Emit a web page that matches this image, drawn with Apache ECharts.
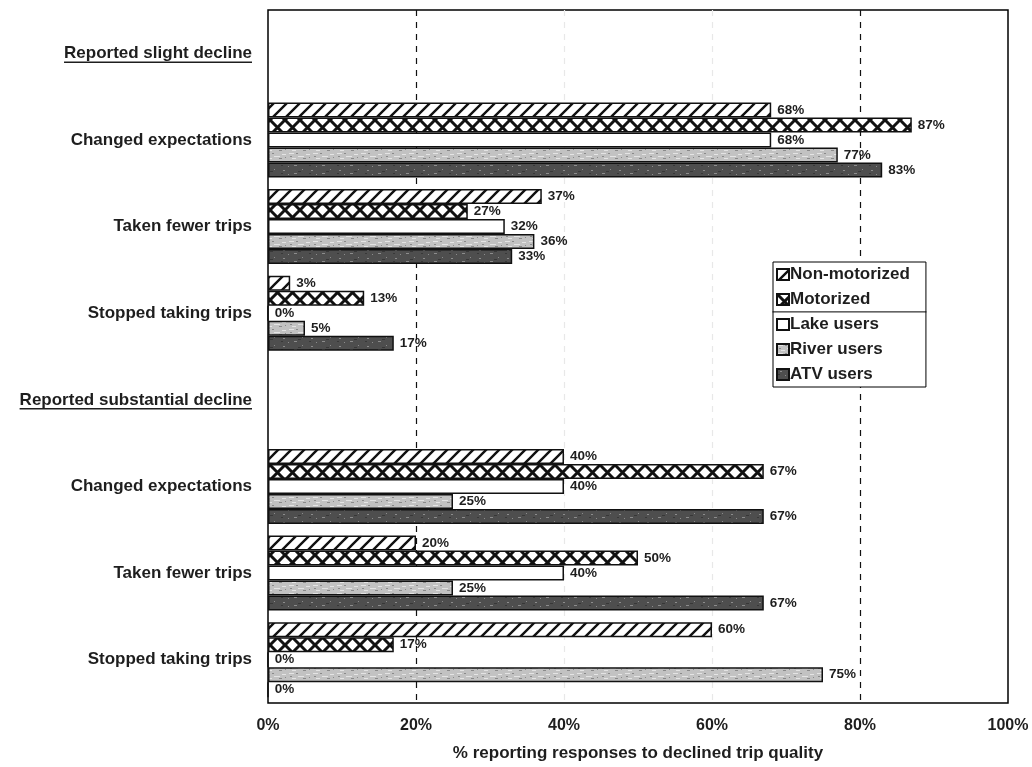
<!DOCTYPE html>
<html>
<head>
<meta charset="utf-8">
<script src="https://cdn.jsdelivr.net/npm/echarts@6/dist/echarts.min.js"></script>
<style>
  html, body { margin: 0; padding: 0; background: #fff; }
  #chart { width: 1032px; height: 767px; }
</style>
</head>
<body>
<div id="chart"></div>
<script>
// ---------- data ----------
const categories = [
  'Reported slight decline',
  'Changed expectations',
  'Taken fewer trips',
  'Stopped taking trips',
  'Reported substantial decline',
  'Changed expectations',
  'Taken fewer trips',
  'Stopped taking trips'
];
const headerRows = [0, 4];
const seriesNames = ['Non-motorized', 'Motorized', 'Lake users', 'River users', 'ATV users'];
const nonMotorized = [null, 68, 37, 3, null, 40, 20, 60];
const motorized    = [null, 87, 27, 13, null, 67, 50, 17];
const lakeUsers    = [null, 68, 32, 0, null, 40, 40, 0];
const riverUsers   = [null, 77, 36, 5, null, 25, 25, 75];
const atvUsers     = [null, 83, 33, 17, null, 67, 67, 0];
const xTicks = [0, 20, 40, 60, 80, 100];
const xTitle = '% reporting responses to declined trip quality';

// ---------- fill patterns ----------
function makeTile(w, h, draw) {
  const c = document.createElement('canvas');
  c.width = w; c.height = h;
  const ctx = c.getContext('2d');
  draw(ctx, w, h);
  return c;
}
const hatchTile = makeTile(13, 13, (ctx, w, h) => {
  ctx.fillStyle = '#fff'; ctx.fillRect(0, 0, w, h);
  ctx.strokeStyle = '#111'; ctx.lineWidth = 2.4;
  ctx.beginPath();
  ctx.moveTo(-2, h + 2); ctx.lineTo(w + 2, -2);
  ctx.moveTo(-2, 2); ctx.lineTo(2, -2);
  ctx.moveTo(w - 2, h + 2); ctx.lineTo(w + 2, h - 2);
  ctx.stroke();
});
const crossTile = makeTile(15, 15, (ctx, w, h) => {
  ctx.fillStyle = '#fff'; ctx.fillRect(0, 0, w, h);
  ctx.strokeStyle = '#111'; ctx.lineWidth = 3;
  ctx.beginPath();
  ctx.moveTo(0, 0); ctx.lineTo(w, h);
  ctx.moveTo(0, h); ctx.lineTo(w, 0);
  ctx.stroke();
});
const riverTile = makeTile(24, 8, (ctx, w, h) => {
  ctx.fillStyle = '#c2c2c2'; ctx.fillRect(0, 0, w, h);
  ctx.fillStyle = '#e4e4e4';
  ctx.fillRect(1, 1, 5, 1); ctx.fillRect(10, 4, 6, 1); ctx.fillRect(18, 2, 4, 1); ctx.fillRect(4, 6, 4, 1);
  ctx.fillStyle = '#8a8a8a';
  ctx.fillRect(8, 1, 2, 1); ctx.fillRect(15, 6, 3, 1); ctx.fillRect(21, 5, 1, 1); ctx.fillRect(2, 4, 2, 1);
});
const atvTile = makeTile(28, 8, (ctx, w, h) => {
  ctx.fillStyle = '#4e4e4e'; ctx.fillRect(0, 0, w, h);
  ctx.fillStyle = '#8c8c8c';
  ctx.fillRect(3, 2, 2, 1); ctx.fillRect(14, 5, 3, 1); ctx.fillRect(22, 1, 1, 1); ctx.fillRect(8, 6, 1, 1);
  ctx.fillStyle = '#383838';
  ctx.fillRect(18, 3, 3, 1); ctx.fillRect(1, 5, 2, 1);
});

const fills = [
  { image: hatchTile, repeat: 'repeat' },
  { image: crossTile, repeat: 'repeat' },
  '#ffffff',
  { image: riverTile, repeat: 'repeat' },
  { image: atvTile, repeat: 'repeat' }
];
const seriesData = [nonMotorized, motorized, lakeUsers, riverUsers, atvUsers];

const FONT = 'Liberation Sans, Arial, sans-serif';
const TEXT = '#1e1e1e';

const chart = echarts.init(document.getElementById('chart'), null, { renderer: 'canvas' });

const option = {
  backgroundColor: '#fff',
  animation: false,
  textStyle: { fontFamily: FONT },
  grid: {
    left: 268, right: 24, top: 10, bottom: 64,
    show: true, borderColor: '#000', borderWidth: 1.5, backgroundColor: 'transparent'
  },
  legend: {
    data: seriesNames,
    orient: 'vertical',
    left: 773, top: 262,
    itemWidth: 12, itemHeight: 11, itemGap: 8,
    icon: 'rect',
    backgroundColor: '#fff',
    borderColor: '#000', borderWidth: 1,
    padding: [4, 16, 4, 3],
    textStyle: { fontFamily: FONT, fontSize: 17, fontWeight: 'bold', color: TEXT, padding: [0, 0, 0, -4] },
    z: 10
  },
  xAxis: {
    type: 'value',
    min: xTicks[0], max: xTicks[xTicks.length - 1], interval: 20,
    axisLine: { show: false },
    axisTick: { show: false },
    axisLabel: {
      formatter: '{value}%', fontFamily: FONT, fontSize: 16, fontWeight: 'bold', color: TEXT, margin: 15
    },
    splitLine: {
      show: true,
      lineStyle: { type: [6, 6], width: 1.2, color: ['rgba(0,0,0,0)', '#111', '#e8e8e8', '#e8e8e8', '#111', 'rgba(0,0,0,0)'] }
    },
    name: xTitle,
    nameLocation: 'middle',
    nameGap: 42,
    nameTextStyle: { fontFamily: FONT, fontSize: 17, fontWeight: 'bold', color: TEXT }
  },
  yAxis: {
    type: 'category',
    data: categories,
    inverse: true,
    axisLine: { show: false },
    axisTick: { show: false },
    axisLabel: {
      fontFamily: FONT, fontSize: 17, fontWeight: 'bold', color: TEXT, margin: 16,
      interval: 0
    }
  },
  series: seriesNames.map((name, i) => ({
    name: name,
    type: 'bar',
    data: seriesData[i],
    barWidth: 15,
    barGap: '0%',
    itemStyle: { color: fills[i], borderColor: '#111', borderWidth: 1.5 },
    label: {
      show: true, position: 'right', distance: 6,
      formatter: p => (p.value == null ? '' : p.value + '%'),
      fontFamily: FONT, fontSize: 13.5, fontWeight: 'bold', color: TEXT
    },
    emphasis: { disabled: true }
  }))
};
chart.setOption(option);

// underline the section header labels; separator line inside the legend
(function () {
  const ctx = document.createElement('canvas').getContext('2d');
  ctx.font = 'bold 17px ' + FONT;
  const right = 268 - 16;
  const els = headerRows.map(idx => {
    const y = chart.convertToPixel({ yAxisIndex: 0 }, idx);
    const w = ctx.measureText(categories[idx]).width;
    return {
      type: 'line',
      shape: { x1: right - w, y1: y + 9, x2: right, y2: y + 9 },
      style: { stroke: TEXT, lineWidth: 1.5 },
      silent: true
    };
  });
  const legendView = chart.getViewOfComponentModel(chart.getModel().getComponent('legend'));
  if (legendView && legendView.group) {
    const r = legendView.group.getBoundingRect();
    const x0 = legendView.group.x + r.x, y0 = legendView.group.y + r.y;
    const sepY = y0 + r.height * 0.4;
    els.push({
      type: 'line', z: 20,
      shape: { x1: x0, y1: sepY, x2: x0 + r.width, y2: sepY },
      style: { stroke: '#000', lineWidth: 1 },
      silent: true
    });
  }
  chart.setOption({ graphic: els });
})();
</script>
</body>
</html>
